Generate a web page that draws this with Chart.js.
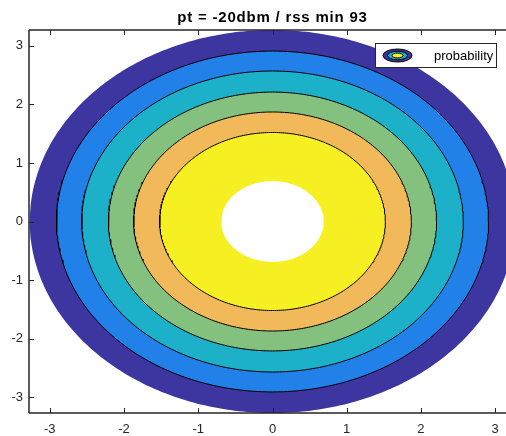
<!DOCTYPE html>
<html>
<head>
<meta charset="utf-8">
<script src="https://cdn.jsdelivr.net/npm/chart.js@4.4.1/dist/chart.umd.min.js"></script>
<style>
html, body { margin: 0; padding: 0; overflow: hidden; background: #ffffff; width: 506px; height: 436px; }
#wrap { position: absolute; left: 0; top: 0; width: 520px; height: 436px; }
</style>
</head>
<body>
<div id="wrap"><canvas id="c" width="520" height="436"></canvas></div>
<script>
// ---- data ----
const titleText = 'pt = -20dbm / rss min 93';
const legendLabel = 'probability';
const xTicks = [-3, -2, -1, 0, 1, 2, 3];
const yTicks = [-3, -2, -1, 0, 1, 2, 3];
const xRange = [-3.28, 3.28];
const yRange = [-3.27, 3.27];
// contour boundaries (outer to inner) and band colours
const levelRadii = [3.27, 2.91, 2.57, 2.21, 1.87, 1.52];
const levelColors = ['#3d35a0', '#2181e8', '#1db1c9', '#84c17e', '#f1b95a', '#f6ef22'];
const holeRadius = 0.69;

const FONT = "'Liberation Sans', Arial, Helvetica, sans-serif";
const AXIS = '#262626';

function circle(r) {
  const pts = [];
  const n = 360;
  for (let k = 0; k <= n; k++) {
    const t = (k / n) * 2 * Math.PI;
    pts.push({ x: r * Math.cos(t), y: r * Math.sin(t) });
  }
  return pts;
}

// dataset 0 is drawn on top, so list from inner to outer
const datasets = [];
datasets.push({
  label: 'hole', data: circle(holeRadius), showLine: true, fill: 'shape',
  backgroundColor: '#ffffff', borderColor: '#ffffff', borderWidth: 0, pointRadius: 0
});
for (let i = levelRadii.length - 1; i >= 0; i--) {
  datasets.push({
    label: 'level ' + i, data: circle(levelRadii[i]), showLine: true, fill: 'shape',
    backgroundColor: levelColors[i],
    borderColor: i === 0 ? levelColors[i] : '#000000',
    borderWidth: i === 0 ? 0 : 1,
    pointRadius: 0
  });
}

const framePlugin = {
  id: 'frame',
  afterDraw(chart) {
    const ctx = chart.ctx;
    const a = chart.chartArea;
    const xs = chart.scales.x, ys = chart.scales.y;
    ctx.save();
    ctx.strokeStyle = AXIS;
    ctx.lineWidth = 1.5;
    ctx.beginPath();
    ctx.moveTo(a.left, a.bottom); ctx.lineTo(a.left, a.top);
    ctx.moveTo(a.left, a.top); ctx.lineTo(a.right, a.top);
    ctx.moveTo(a.left, a.bottom); ctx.lineTo(a.right, a.bottom);
    ctx.moveTo(a.right, a.top); ctx.lineTo(a.right, a.bottom);
    ctx.stroke();
    ctx.lineWidth = 1;
    ctx.beginPath();
    const tl = 5;
    xTicks.forEach(v => {
      const px = Math.round(xs.getPixelForValue(v)) + 0.5;
      ctx.moveTo(px, a.bottom); ctx.lineTo(px, a.bottom - tl);
      ctx.moveTo(px, a.top); ctx.lineTo(px, a.top + tl);
    });
    yTicks.forEach(v => {
      const py = Math.round(ys.getPixelForValue(v)) + 0.5;
      ctx.moveTo(a.left, py); ctx.lineTo(a.left + tl, py);
      ctx.moveTo(a.right, py); ctx.lineTo(a.right - tl, py);
    });
    ctx.stroke();

    // title
    ctx.fillStyle = '#000000';
    ctx.font = 'bold 15px ' + FONT;
    if ('letterSpacing' in ctx) ctx.letterSpacing = '0.8px';
    ctx.textAlign = 'center';
    ctx.textBaseline = 'alphabetic';
    ctx.fillText(titleText, (a.left + a.right) / 2, 22);
    if ('letterSpacing' in ctx) ctx.letterSpacing = '0px';

    // legend
    const bx = 375.5, by = 43.5, bw = 121, bh = 24;
    ctx.fillStyle = '#ffffff';
    ctx.fillRect(bx, by, bw, bh);
    ctx.strokeStyle = AXIS;
    ctx.lineWidth = 1;
    ctx.strokeRect(bx, by, bw, bh);
    const cx = 397.5, cy = 55.5;
    const rings = [[14.5, 6.5, levelColors[0]], [10, 4.3, levelColors[2]], [5.5, 2.4, levelColors[5]]];
    rings.forEach(r => {
      ctx.beginPath();
      ctx.ellipse(cx, cy, r[0], r[1], 0, 0, 2 * Math.PI);
      ctx.fillStyle = r[2];
      ctx.fill();
      ctx.strokeStyle = '#000000';
      ctx.lineWidth = 1;
      ctx.stroke();
    });
    ctx.fillStyle = '#000000';
    ctx.font = '13px ' + FONT;
    ctx.textAlign = 'left';
    ctx.textBaseline = 'middle';
    ctx.fillText(legendLabel, 434, 56);
    ctx.restore();
  }
};

new Chart(document.getElementById('c'), {
  type: 'scatter',
  data: { datasets },
  options: {
    responsive: false,
    animation: false,
    events: [],
    layout: { padding: { top: 30, left: 0, right: 4, bottom: 0 } },
    plugins: { legend: { display: false }, tooltip: { enabled: false }, title: { display: false } },
    scales: {
      x: {
        type: 'linear', min: xRange[0], max: xRange[1],
        grid: { display: false, drawTicks: false }, border: { display: false },
        afterBuildTicks: s => { s.ticks = xTicks.map(v => ({ value: v })); },
        afterFit: s => { s.height = 23; },
        ticks: { color: AXIS, font: { family: FONT, size: 13 }, padding: 9, maxRotation: 0, autoSkip: false }
      },
      y: {
        type: 'linear', min: yRange[0], max: yRange[1],
        grid: { display: false, drawTicks: false }, border: { display: false },
        afterBuildTicks: s => { s.ticks = yTicks.map(v => ({ value: v })); },
        afterFit: s => { s.width = 29; },
        ticks: { color: AXIS, font: { family: FONT, size: 13 }, padding: 6, autoSkip: false }
      }
    }
  },
  plugins: [framePlugin]
});
</script>
</body>
</html>
